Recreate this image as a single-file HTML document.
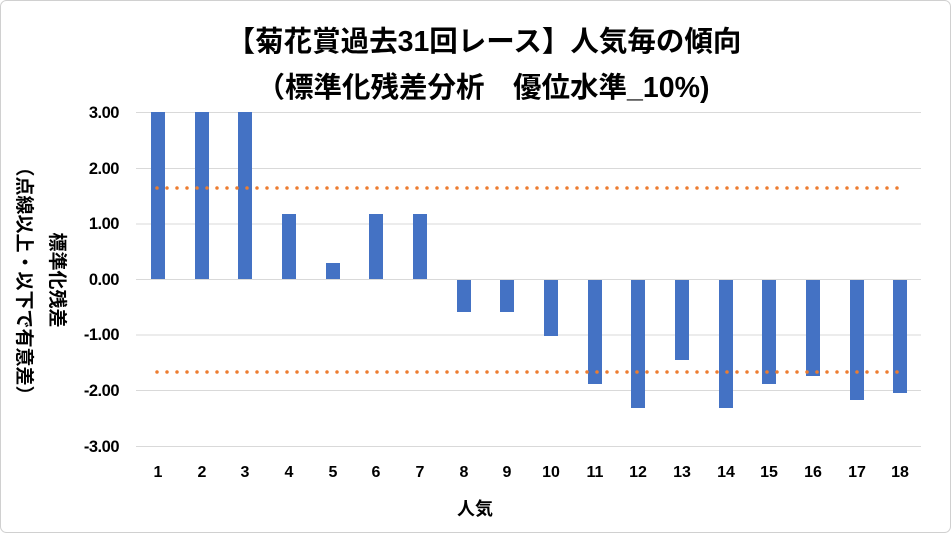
<!DOCTYPE html>
<html><head><meta charset="utf-8"><style>
html,body{margin:0;padding:0;background:#fff}
svg{display:block}
text{font-family:"Liberation Sans","Noto Sans CJK JP",sans-serif;font-weight:bold;fill:#000}
</style></head><body>
<svg width="951" height="533" viewBox="0 0 951 533">
<rect x="0.5" y="0.5" width="950" height="532" rx="6" fill="#fff" stroke="#d0d0d0"/>
<text x="484" y="51" font-size="28.5" text-anchor="middle">【菊花賞過去31回レース】人気毎の傾向</text>
<text x="483" y="97" font-size="28.5" text-anchor="middle">（標準化残差分析　優位水準_10%)</text>
<g stroke="#d9d9d9" stroke-width="1">
<line x1="136" x2="921" y1="112.5" y2="112.5"/>
<line x1="136" x2="921" y1="168.5" y2="168.5"/>
<line x1="136" x2="921" y1="224" y2="224"/>
<line x1="136" x2="921" y1="279.5" y2="279.5"/>
<line x1="136" x2="921" y1="335" y2="335"/>
<line x1="136" x2="921" y1="390.5" y2="390.5"/>
<line x1="136" x2="921" y1="446.5" y2="446.5"/>
</g>
<g font-size="16.5" text-anchor="end" letter-spacing="-0.5">
<text x="119" y="118">3.00</text>
<text x="119" y="174">2.00</text>
<text x="119" y="229">1.00</text>
<text x="119" y="285">0.00</text>
<text x="119" y="340">-1.00</text>
<text x="119" y="396">-2.00</text>
<text x="119" y="452">-3.00</text>
</g>
<g fill="#4472c4">
<rect x="151" y="112" width="14" height="167"/>
<rect x="195" y="112" width="14" height="167"/>
<rect x="238" y="112" width="14" height="167"/>
<rect x="282" y="214" width="14" height="65"/>
<rect x="326" y="263" width="14" height="16"/>
<rect x="369" y="214" width="14" height="65"/>
<rect x="413" y="214" width="14" height="65"/>
<rect x="457" y="280" width="14" height="32"/>
<rect x="500" y="280" width="14" height="32"/>
<rect x="544" y="280" width="14" height="56"/>
<rect x="588" y="280" width="14" height="104"/>
<rect x="631" y="280" width="14" height="128"/>
<rect x="675" y="280" width="14" height="80"/>
<rect x="719" y="280" width="14" height="128"/>
<rect x="762" y="280" width="14" height="104"/>
<rect x="806" y="280" width="14" height="96"/>
<rect x="850" y="280" width="14" height="120"/>
<rect x="893" y="280" width="14" height="113"/>
</g>
<g stroke="#ed7d31" stroke-width="3.5" stroke-linecap="round" stroke-dasharray="0 10">
<line x1="157" x2="902" y1="188" y2="188"/>
<line x1="157" x2="902" y1="372" y2="372"/>
</g>
<g font-size="16" text-anchor="middle">
<text x="158" y="477">1</text><text x="202" y="477">2</text><text x="245" y="477">3</text>
<text x="289" y="477">4</text><text x="333" y="477">5</text><text x="376" y="477">6</text>
<text x="420" y="477">7</text><text x="464" y="477">8</text><text x="507" y="477">9</text>
<text x="551" y="477">10</text><text x="595" y="477">11</text><text x="638" y="477">12</text>
<text x="682" y="477">13</text><text x="726" y="477">14</text><text x="769" y="477">15</text>
<text x="813" y="477">16</text><text x="857" y="477">17</text><text x="900" y="477">18</text>
</g>
<text x="475" y="515" font-size="18" text-anchor="middle">人気</text>
<text transform="translate(51,280) rotate(90)" font-size="19" text-anchor="middle">標準化残差</text>
<text transform="translate(18,281) rotate(90)" font-size="19" text-anchor="middle">（点線以上・以下で有意差）</text>
</svg>
</body></html>
